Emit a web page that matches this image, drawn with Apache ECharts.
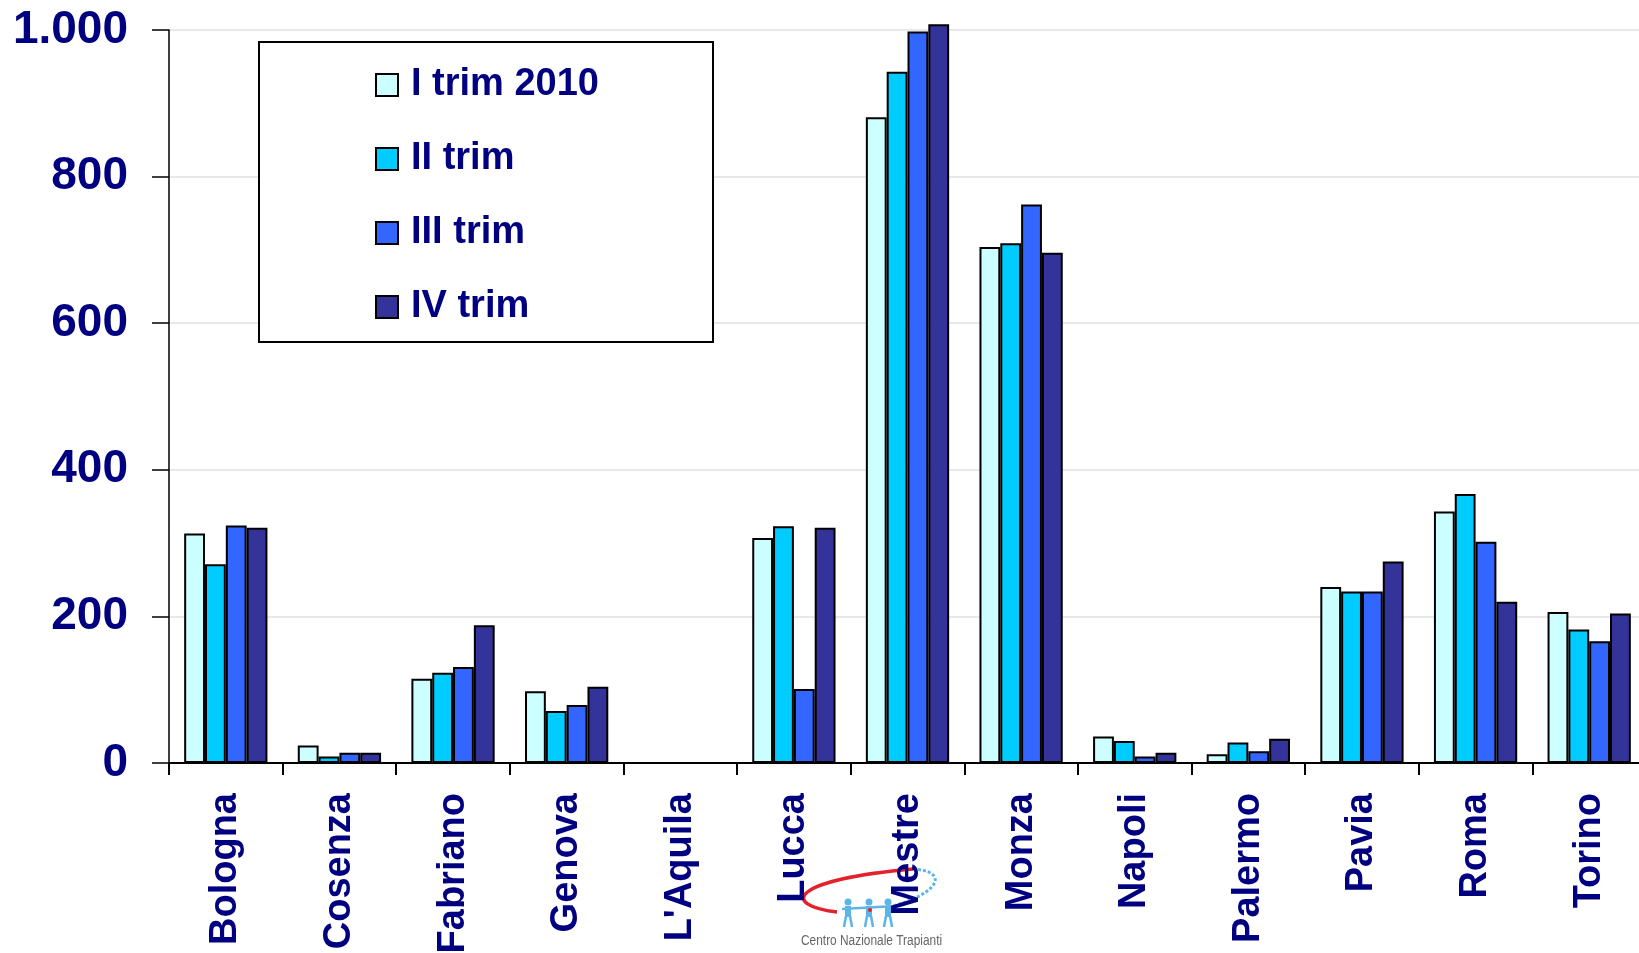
<!DOCTYPE html>
<html>
<head>
<meta charset="utf-8">
<script src="https://cdn.jsdelivr.net/npm/echarts@6/dist/echarts.min.js"></script>
<style>html,body{margin:0;padding:0;background:#fff;overflow:hidden;}#c{width:1639px;height:953px;}</style>
</head>
<body>
<div id="c"></div>
<script>
var categories = ['Bologna','Cosenza','Fabriano','Genova',"L'Aquila",'Lucca','Mestre','Monza','Napoli','Palermo','Pavia','Roma','Torino'];
var seriesNames = ['I trim 2010','II trim','III trim','IV trim'];
var trim1 = [313, 24, 115, 98, 0, 307, 881, 704, 36, 12, 240, 343, 206];
var trim2 = [271, 9, 123, 71, 0, 323, 943, 709, 30, 28, 234, 367, 182];
var trim3 = [324, 14, 131, 79, 0, 101, 998, 762, 9, 16, 234, 302, 166];
var trim4 = [321, 14, 188, 104, 0, 321, 1008, 696, 14, 33, 275, 220, 204];
var yTicks = [0, 200, 400, 600, 800, 1000];
var colors = ['#CCFFFF', '#00CCFF', '#3366FF', '#333399'];

var navy = '#000080';
var font = '"Liberation Sans", Arial, sans-serif';
var values = [trim1, trim2, trim3, trim4];

var logoBlue = '#5bb6e6';
var logo = [
  {type: 'bezierCurve', z: -1, shape: {x1: 837, y1: 912, cpx1: 780, cpy1: 905, cpx2: 790, cpy2: 880, x2: 913, y2: 869}, style: {fill: 'none', stroke: '#e3222b', lineWidth: 3.5}},
  {type: 'bezierCurve', z: -1, shape: {x1: 913, y1: 869, cpx1: 948, cpy1: 871, cpx2: 942, cpy2: 892, x2: 893, y2: 906}, style: {fill: 'none', stroke: logoBlue, lineWidth: 3, lineDash: [3, 2]}},
  {type: 'line', z: -1, shape: {x1: 842, y1: 909, x2: 896, y2: 906}, style: {stroke: logoBlue, lineWidth: 2.5}}
];
[848, 869, 888].forEach(function (x) {
  logo.push({type: 'circle', z: -1, shape: {cx: x, cy: 902, r: 3.5}, style: {fill: logoBlue}});
  logo.push({type: 'rect', z: -1, shape: {x: x - 3, y: 906, width: 6, height: 11}, style: {fill: logoBlue}});
  logo.push({type: 'line', z: -1, shape: {x1: x - 2, y1: 916, x2: x - 4, y2: 927}, style: {stroke: logoBlue, lineWidth: 2.5}});
  logo.push({type: 'line', z: -1, shape: {x1: x + 2, y1: 916, x2: x + 4, y2: 927}, style: {stroke: logoBlue, lineWidth: 2.5}});
});
logo.push({type: 'circle', z: -1, shape: {cx: 870, cy: 910, r: 2}, style: {fill: '#e3222b'}});
logo.push({type: 'text', z: -1, x: 801, y: 941.5, scaleX: 0.85, style: {text: 'Centro Nazionale Trapianti', fill: '#666', fontSize: 14, verticalAlign: 'middle', align: 'left', fontFamily: font}});

var chart = echarts.init(document.getElementById('c'), null, {renderer: 'canvas'});
chart.setOption({
  animation: false,
  backgroundColor: '#fff',
  textStyle: {fontFamily: font},
  grid: {left: 169, top: 30, bottom: 190, width: 1477, containLabel: false, outerBoundsMode: 'none'},
  legend: {
    orient: 'vertical',
    left: 259, top: 42,
    padding: [21, 114, 13, 116],
    itemGap: 30,
    itemWidth: 22, itemHeight: 22,
    borderColor: '#000', borderWidth: 2,
    backgroundColor: '#fff',
    icon: 'rect',
    textStyle: {color: navy, fontSize: 38, fontWeight: 'bold', fontFamily: font, padding: [0, 0, 0, 8], lineHeight: 44},
    data: seriesNames
  },
  xAxis: {
    type: 'category',
    data: categories,
    axisLine: {lineStyle: {color: '#000', width: 2}},
    axisTick: {show: true, length: 12, lineStyle: {color: '#000', width: 2}},
    axisLabel: {rotate: 90, margin: 30, color: navy, fontSize: 38, fontWeight: 'bold', fontFamily: font, interval: 0},
    splitLine: {show: false}
  },
  yAxis: {
    type: 'value',
    min: yTicks[0], max: yTicks[yTicks.length - 1], interval: 200,
    axisLine: {show: true, lineStyle: {color: '#000', width: 1.5}},
    axisTick: {show: true, inside: false, length: 17, lineStyle: {color: '#000', width: 1.5}},
    axisLabel: {
      margin: 41, color: navy, fontSize: 46, fontWeight: 'bold', fontFamily: font,
      formatter: function (v) { return v >= 1000 ? (Math.floor(v / 1000) + '.' + String(v % 1000).padStart(3, '0')) : String(v); }
    },
    splitLine: {show: true, lineStyle: {color: '#e0e0e0', width: 1.5}}
  },
  series: seriesNames.map(function (n, i) {
    return {
      name: n,
      type: 'bar',
      data: values[i],
      barGap: '0%',
      barCategoryGap: '26.7%',
      clip: false,
      itemStyle: {color: colors[i], borderColor: '#000', borderWidth: 2}
    };
  }),
  graphic: logo
});
</script>
</body>
</html>
